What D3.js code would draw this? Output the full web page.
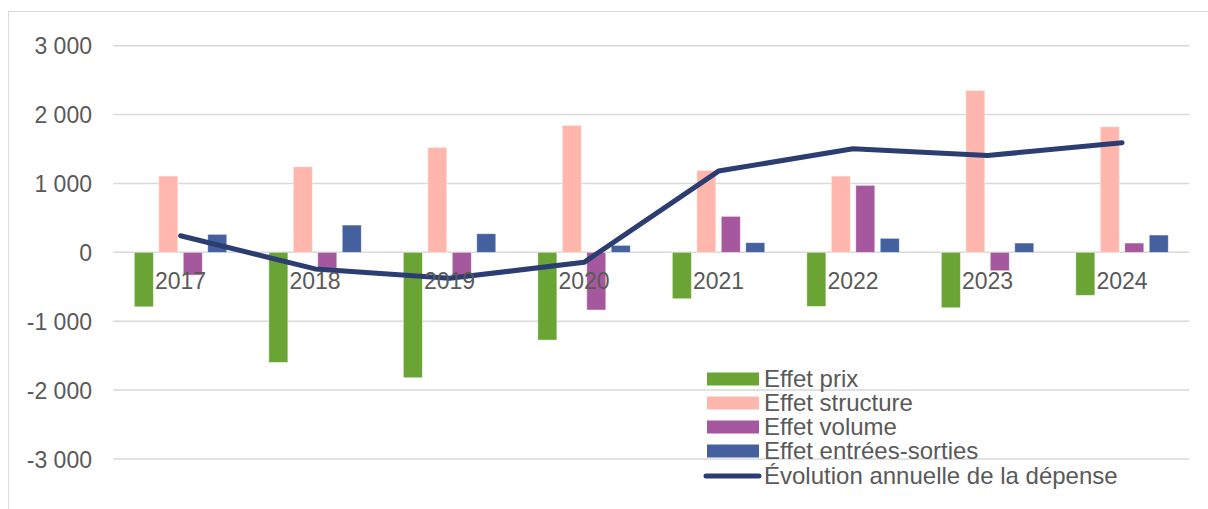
<!DOCTYPE html>
<html><head><meta charset="utf-8">
<script src="https://cdn.jsdelivr.net/npm/d3@7"></script>
<style>
html,body{margin:0;padding:0;background:#fff;}
svg{display:block;font-family:"Liberation Sans",Arial,sans-serif;}
</style></head>
<body><svg id="c" width="1208" height="509"></svg>
<script>
const categories = ["2017","2018","2019","2020","2021","2022","2023","2024"];
const seriesNames = ["Effet prix","Effet structure","Effet volume","Effet entrées-sorties"];
const effetPrix = [-790,-1597,-1820,-1273,-673,-784,-804,-624];
const effetStructure = [1107,1242,1524,1843,1190,1107,2351,1823];
const effetVolume = [-330,-232,-345,-837,522,972,-267,135];
const effetEntreesSorties = [261,396,270,101,140,203,135,251];
const evolution = [241,-240,-377,-145,1180,1504,1406,1591];
const lineName = "Évolution annuelle de la dépense";
const yTicks = [-3000,-2000,-1000,0,1000,2000,3000];
const colors = ["#6AA434","#FFB6AD","#A6589E","#44609E"];
const lineColor = "#2C3D72";

const seriesValues = [effetPrix, effetStructure, effetVolume, effetEntreesSorties];
const svg = d3.select("#c");
const left = 113.3, right = 1189.3;
const y = d3.scaleLinear().domain([-3000,3000]).range([459,45.7]);
const x0 = d3.scaleBand().domain(categories).range([left,right]).paddingInner(0.313).paddingOuter(0.1565);
const x1 = d3.scaleBand().domain(seriesNames).range([0,x0.bandwidth()]).paddingInner(0.224).paddingOuter(0);

// chart border
svg.append("rect").attr("x",8.5).attr("y",11.5).attr("width",1220).attr("height",520)
  .attr("fill","none").attr("stroke","#D9D9D9").attr("stroke-width",1);

// gridlines
svg.append("g").selectAll("line").data(yTicks).join("line")
  .attr("x1",left).attr("x2",right).attr("y1",d=>y(d)).attr("y2",d=>y(d))
  .attr("stroke","#D9D9D9").attr("stroke-width",1.5);

// y axis labels
const yAxis = d3.axisLeft(y).tickValues(yTicks).tickSize(0).tickPadding(0).tickFormat(v=>{
  const a = Math.abs(v); const s = a>=1000 ? Math.floor(a/1000)+" "+String(a%1000).padStart(3,"0") : String(a);
  return (v<0?"-":"")+s;});
const ga = svg.append("g").attr("transform","translate(92,0)").call(yAxis);
ga.select(".domain").remove();
ga.selectAll("text").attr("font-size",23).attr("fill","#595959").attr("font-family","Liberation Sans, Arial, sans-serif").attr("dy","0.35em");

// bars
const groups = svg.append("g").selectAll("g").data(categories).join("g")
  .attr("transform",d=>`translate(${x0(d)},0)`);
groups.selectAll("rect").data((d,i)=>seriesNames.map((s,j)=>({s,j,v:seriesValues[j][i]}))).join("rect")
  .attr("x",d=>x1(d.s)).attr("width",x1.bandwidth())
  .attr("y",d=>y(Math.max(0,d.v))).attr("height",d=>Math.abs(y(d.v)-y(0)))
  .attr("fill",d=>colors[d.j]).attr("stroke","rgba(255,255,255,0.5)").attr("stroke-width",0.8);

// line
const line = d3.line().x((d,i)=>x0(categories[i])+x0.bandwidth()/2).y(d=>y(d));
svg.append("path").datum(evolution).attr("d",line).attr("fill","none")
  .attr("stroke",lineColor).attr("stroke-width",5).attr("stroke-linejoin","round").attr("stroke-linecap","round");

// category labels
svg.append("g").selectAll("text").data(categories).join("text")
  .attr("x",d=>x0(d)+x0.bandwidth()/2).attr("y",288.5).attr("text-anchor","middle")
  .attr("font-size",23).attr("fill","#595959").text(d=>d);

// legend
const lg = svg.append("g");
const rowY = [379,403,427,451];
seriesNames.forEach((s,j)=>{
  lg.append("rect").attr("x",707).attr("y",rowY[j]-6.5).attr("width",52).attr("height",13).attr("fill",colors[j]);
  lg.append("text").attr("x",764).attr("y",rowY[j]+7.5).attr("font-size",24).attr("fill","#595959").text(s);
});
lg.append("line").attr("x1",706).attr("x2",759).attr("y1",476).attr("y2",476)
  .attr("stroke",lineColor).attr("stroke-width",5).attr("stroke-linecap","round");
lg.append("text").attr("x",764).attr("y",484).attr("font-size",24).attr("fill","#595959").text(lineName);
</script></body></html>
